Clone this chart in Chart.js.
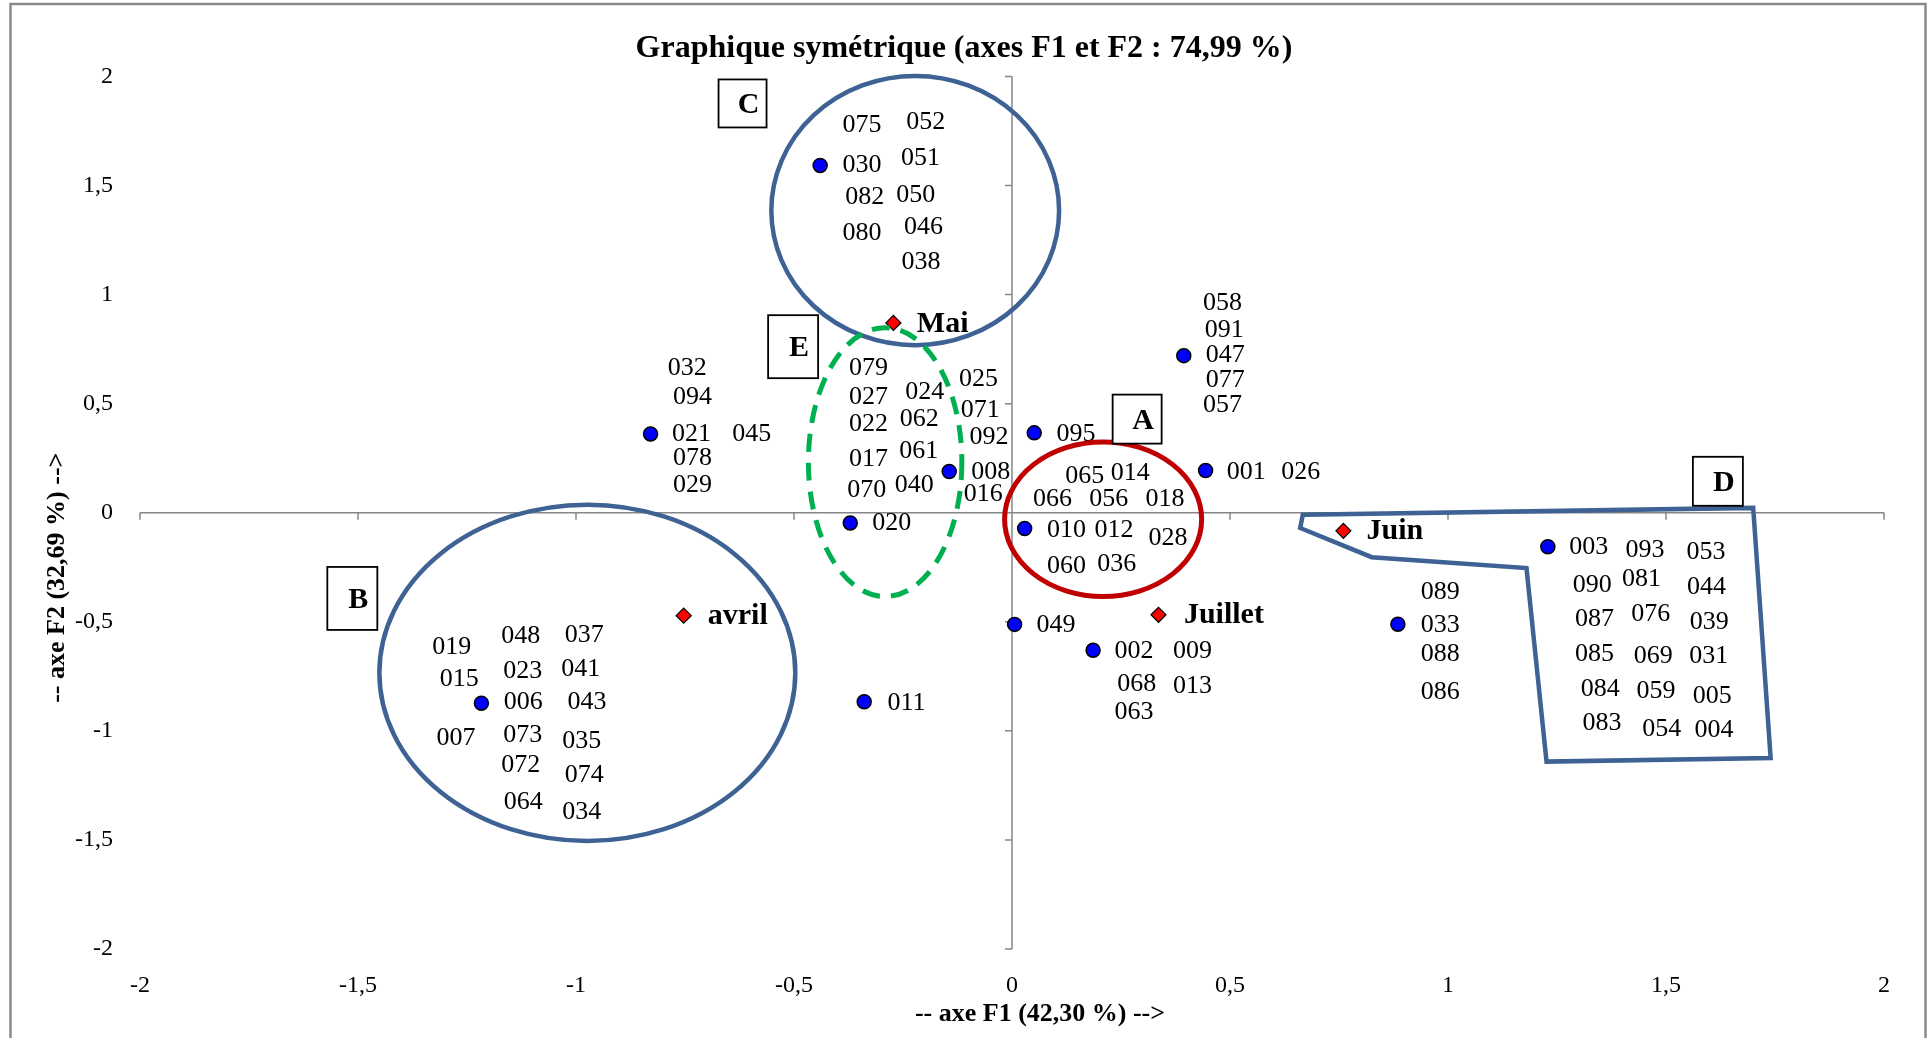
<!DOCTYPE html>
<html lang="fr">
<head>
<meta charset="UTF-8">
<title>Graphique symétrique</title>
<script src="https://cdn.jsdelivr.net/npm/chart.js"></script>
<style>
  html, body { margin: 0; padding: 0; background: #fff; }
  canvas { display: block; }
</style>
</head>
<body>
<canvas id="afc" width="1928" height="1038"></canvas>
<script>
const tickValues = [-2, -1.5, -1, -0.5, 0, 0.5, 1, 1.5, 2];

// observations (blue dots), coordinates on F1 / F2
const obsNames = ['030', '021', '008', '020', '095', '047', '001', '010', '049', '002', '011', '006', '033', '003'];
const obsF1 = [-0.440, -0.829, -0.144, -0.371, 0.051, 0.394, 0.444, 0.029, 0.006, 0.186, -0.339, -1.217, 0.885, 1.229];
const obsF2 = [1.592, 0.361, 0.189, -0.047, 0.366, 0.720, 0.193, -0.072, -0.512, -0.631, -0.867, -0.873, -0.511, -0.156];

// months (red diamonds)
const monthNames = ['avril', 'Mai', 'Juin', 'Juillet'];
const monthF1 = [-0.753, -0.272, 0.760, 0.336];
const monthF2 = [-0.472, 0.870, -0.083, -0.468];
const monthLabelF1 = [-0.629, -0.159, 0.878, 0.486];
const monthLabelF2 = [-0.476, 0.862, -0.086, -0.472];

// observation codes as written on the chart: [code, F1, F2]
const codeLabels = [
  ['075', -0.344, 1.777], ['052', -0.198, 1.788], ['030', -0.344, 1.592], ['051', -0.210, 1.625],
  ['082', -0.338, 1.446], ['050', -0.221, 1.456], ['080', -0.344, 1.283], ['046', -0.203, 1.311],
  ['038', -0.209, 1.150],
  ['032', -0.745, 0.664], ['094', -0.733, 0.531], ['021', -0.735, 0.358], ['045', -0.597, 0.358],
  ['078', -0.733, 0.248], ['029', -0.733, 0.128],
  ['079', -0.329, 0.664], ['027', -0.329, 0.529], ['022', -0.329, 0.408], ['017', -0.329, 0.246],
  ['070', -0.333, 0.101], ['024', -0.200, 0.552], ['062', -0.213, 0.431], ['061', -0.214, 0.284],
  ['040', -0.224, 0.124], ['025', -0.077, 0.610], ['071', -0.073, 0.468], ['092', -0.053, 0.345],
  ['008', -0.049, 0.187], ['016', -0.066, 0.083], ['020', -0.276, -0.047],
  ['058', 0.483, 0.962], ['091', 0.487, 0.839], ['047', 0.489, 0.720], ['077', 0.489, 0.606],
  ['057', 0.483, 0.492], ['095', 0.147, 0.362], ['001', 0.537, 0.185], ['026', 0.662, 0.185],
  ['065', 0.167, 0.167], ['014', 0.271, 0.179], ['066', 0.093, 0.063], ['056', 0.222, 0.060],
  ['018', 0.351, 0.060], ['010', 0.125, -0.078], ['012', 0.234, -0.078], ['028', 0.358, -0.116],
  ['060', 0.125, -0.243], ['036', 0.240, -0.234],
  ['049', 0.101, -0.514], ['002', 0.280, -0.636], ['009', 0.414, -0.636], ['068', 0.286, -0.784],
  ['013', 0.414, -0.797], ['063', 0.280, -0.916], ['011', -0.242, -0.873],
  ['089', 0.982, -0.366], ['033', 0.982, -0.514], ['088', 0.982, -0.647], ['086', 0.982, -0.822],
  ['003', 1.323, -0.159], ['093', 1.452, -0.170], ['053', 1.592, -0.182],
  ['090', 1.331, -0.330], ['081', 1.444, -0.304], ['044', 1.593, -0.341],
  ['087', 1.336, -0.486], ['076', 1.465, -0.465], ['039', 1.599, -0.501],
  ['085', 1.336, -0.647], ['069', 1.471, -0.659], ['031', 1.598, -0.659],
  ['084', 1.349, -0.809], ['059', 1.477, -0.820], ['005', 1.606, -0.843],
  ['083', 1.353, -0.965], ['054', 1.490, -0.992], ['004', 1.610, -0.999],
  ['019', -1.285, -0.616], ['048', -1.127, -0.567], ['037', -0.981, -0.560],
  ['015', -1.268, -0.763], ['023', -1.122, -0.725], ['041', -0.989, -0.717],
  ['006', -1.121, -0.870], ['043', -0.975, -0.870],
  ['007', -1.275, -1.034], ['073', -1.122, -1.018], ['035', -0.987, -1.046],
  ['072', -1.127, -1.159], ['074', -0.981, -1.202],
  ['064', -1.121, -1.327], ['034', -0.987, -1.375]
];

// groups drawn as ellipses
const ellipseNames = ['C', 'B', 'A', 'E'];
const ellipseCenterF1 = [-0.222, -0.974, 0.209, -0.291];
const ellipseCenterF2 = [1.385, -0.734, -0.030, 0.232];
const ellipseRadiusF1 = [0.330, 0.477, 0.226, 0.176];
const ellipseRadiusF2 = [0.617, 0.771, 0.354, 0.616];

// group D outline
const groupDF1 = [0.667, 1.700, 1.740, 1.226, 1.180, 0.825, 0.661];
const groupDF2 = [-0.009, 0.022, -1.125, -1.141, -0.254, -0.204, -0.070];

// group letter boxes
const boxLetters = ['C', 'E', 'A', 'D', 'B'];
const boxF1 = [-0.618, -0.502, 0.287, 1.619, -1.513];
const boxF2 = [1.876, 0.761, 0.429, 0.144, -0.393];

const serif = "'Liberation Serif', 'Times New Roman', serif";
const fmt = v => String(v).replace('.', ',');

const ellipseStyle = {
  C: { color: '#3D6293', width: 4.5 },
  B: { color: '#3D6293', width: 4.5 },
  A: { color: '#C00000', width: 5 },
  E: { color: '#00B050', width: 5, dash: [18, 11] }
};
const boxSize = { C: [48, 48], E: [50, 63], A: [49, 49], D: [50, 49], B: [50, 63] };

const overlay = {
  id: 'overlay',
  beforeDraw(chart) {
    const ctx = chart.ctx;
    ctx.save();
    ctx.fillStyle = '#fff';
    ctx.fillRect(0, 0, chart.width, chart.height);
    ctx.strokeStyle = '#8a8a8a';
    ctx.lineWidth = 2.5;
    ctx.strokeRect(10.5, 4, 1915, chart.height + 20);
    ctx.restore();
  },
  beforeDatasetsDraw(chart) {
    const { ctx, scales: { x, y } } = chart;
    const x0 = x.getPixelForValue(0), y0 = y.getPixelForValue(0);
    ctx.save();
    ctx.strokeStyle = '#868686';
    ctx.lineWidth = 1.5;
    ctx.beginPath();
    ctx.moveTo(x.left, y0); ctx.lineTo(x.right, y0);
    ctx.moveTo(x0, y.top); ctx.lineTo(x0, y.bottom);
    tickValues.forEach(v => {
      const px = x.getPixelForValue(v), py = y.getPixelForValue(v);
      ctx.moveTo(px, y0); ctx.lineTo(px, y0 + 7);
      ctx.moveTo(x0, py); ctx.lineTo(x0 - 7, py);
    });
    ctx.stroke();
    ctx.restore();
  },
  afterDatasetsDraw(chart) {
    const { ctx, scales: { x, y }, chartArea } = chart;
    ctx.save();

    // codes and month names
    ctx.fillStyle = '#000';
    ctx.textAlign = 'center';
    ctx.textBaseline = 'middle';
    ctx.font = `26px ${serif}`;
    codeLabels.forEach(([t, f1, f2]) => ctx.fillText(t, x.getPixelForValue(f1), y.getPixelForValue(f2)));
    ctx.font = `bold 30px ${serif}`;
    monthNames.forEach((m, i) => ctx.fillText(m, x.getPixelForValue(monthLabelF1[i]), y.getPixelForValue(monthLabelF2[i])));

    // ellipses
    ellipseNames.forEach((g, i) => {
      const cx = x.getPixelForValue(ellipseCenterF1[i]);
      const cy = y.getPixelForValue(ellipseCenterF2[i]);
      const rx = Math.abs(x.getPixelForValue(ellipseCenterF1[i] + ellipseRadiusF1[i]) - cx);
      const ry = Math.abs(y.getPixelForValue(ellipseCenterF2[i] + ellipseRadiusF2[i]) - cy);
      const st = ellipseStyle[g];
      ctx.strokeStyle = st.color;
      ctx.lineWidth = st.width;
      ctx.setLineDash(st.dash || []);
      ctx.beginPath();
      ctx.ellipse(cx, cy, rx, ry, 0, 0, Math.PI * 2);
      ctx.stroke();
    });
    ctx.setLineDash([]);

    // group D polygon
    ctx.strokeStyle = '#3D6293';
    ctx.lineWidth = 4.5;
    ctx.lineJoin = 'miter';
    ctx.beginPath();
    groupDF1.forEach((f1, i) => {
      const px = x.getPixelForValue(f1), py = y.getPixelForValue(groupDF2[i]);
      if (i === 0) ctx.moveTo(px, py); else ctx.lineTo(px, py);
    });
    ctx.closePath();
    ctx.stroke();

    // letter boxes
    ctx.font = `bold 30px ${serif}`;
    boxLetters.forEach((l, i) => {
      const cx = x.getPixelForValue(boxF1[i]), cy = y.getPixelForValue(boxF2[i]);
      const [w, h] = boxSize[l];
      ctx.fillStyle = '#fff';
      ctx.fillRect(cx - w / 2, cy - h / 2, w, h);
      ctx.strokeStyle = '#000';
      ctx.lineWidth = 1.8;
      ctx.strokeRect(cx - w / 2, cy - h / 2, w, h);
      ctx.fillStyle = '#000';
      ctx.fillText(l, cx + 6, cy + 2);
    });

    // axis titles
    const midX = (chartArea.left + chartArea.right) / 2;
    const midY = (chartArea.top + chartArea.bottom) / 2;
    ctx.font = `bold 26px ${serif}`;
    ctx.fillText('-- axe F1 (42,30 %) -->', midX + 28, 1014);
    ctx.translate(57, midY + 65);
    ctx.rotate(-Math.PI / 2);
    ctx.fillText('-- axe F2 (32,69 %) -->', 0, 0);
    ctx.restore();
  }
};

new Chart(document.getElementById('afc'), {
  type: 'scatter',
  data: {
    datasets: [
      {
        label: 'Observations',
        data: obsF1.map((v, i) => ({ x: v, y: obsF2[i], name: obsNames[i] })),
        pointStyle: 'circle',
        pointRadius: 7,
        backgroundColor: '#0000FF',
        borderColor: '#000',
        borderWidth: 1.5
      },
      {
        label: 'Mois',
        data: monthF1.map((v, i) => ({ x: v, y: monthF2[i], name: monthNames[i] })),
        pointStyle: 'rectRot',
        pointRadius: 7.5,
        backgroundColor: '#FF0000',
        borderColor: '#000',
        borderWidth: 1.2
      }
    ]
  },
  options: {
    responsive: false,
    animation: false,
    layout: { padding: { left: 44, right: 44, top: 0, bottom: 0 } },
    plugins: {
      legend: { display: false },
      tooltip: { enabled: false },
      title: {
        display: true,
        text: 'Graphique symétrique (axes F1 et F2 : 74,99 %)',
        color: '#000',
        font: { family: serif, size: 32, weight: 'bold' },
        padding: { top: 30, bottom: 8 }
      }
    },
    scales: {
      x: {
        type: 'linear', min: -2, max: 2,
        grid: { display: false, drawTicks: false },
        border: { display: false },
        afterBuildTicks: s => { s.ticks = tickValues.map(v => ({ value: v })); },
        afterFit: s => { s.height = 89; },
        ticks: { color: '#000', font: { family: serif, size: 24 }, padding: 22, callback: fmt }
      },
      y: {
        type: 'linear', min: -2, max: 2,
        grid: { display: false, drawTicks: false },
        border: { display: false },
        afterBuildTicks: s => { s.ticks = tickValues.map(v => ({ value: v })); },
        afterFit: s => { s.width = 96; },
        ticks: { color: '#000', font: { family: serif, size: 24 }, padding: 27, callback: fmt }
      }
    }
  },
  plugins: [overlay]
});
</script>
</body>
</html>
